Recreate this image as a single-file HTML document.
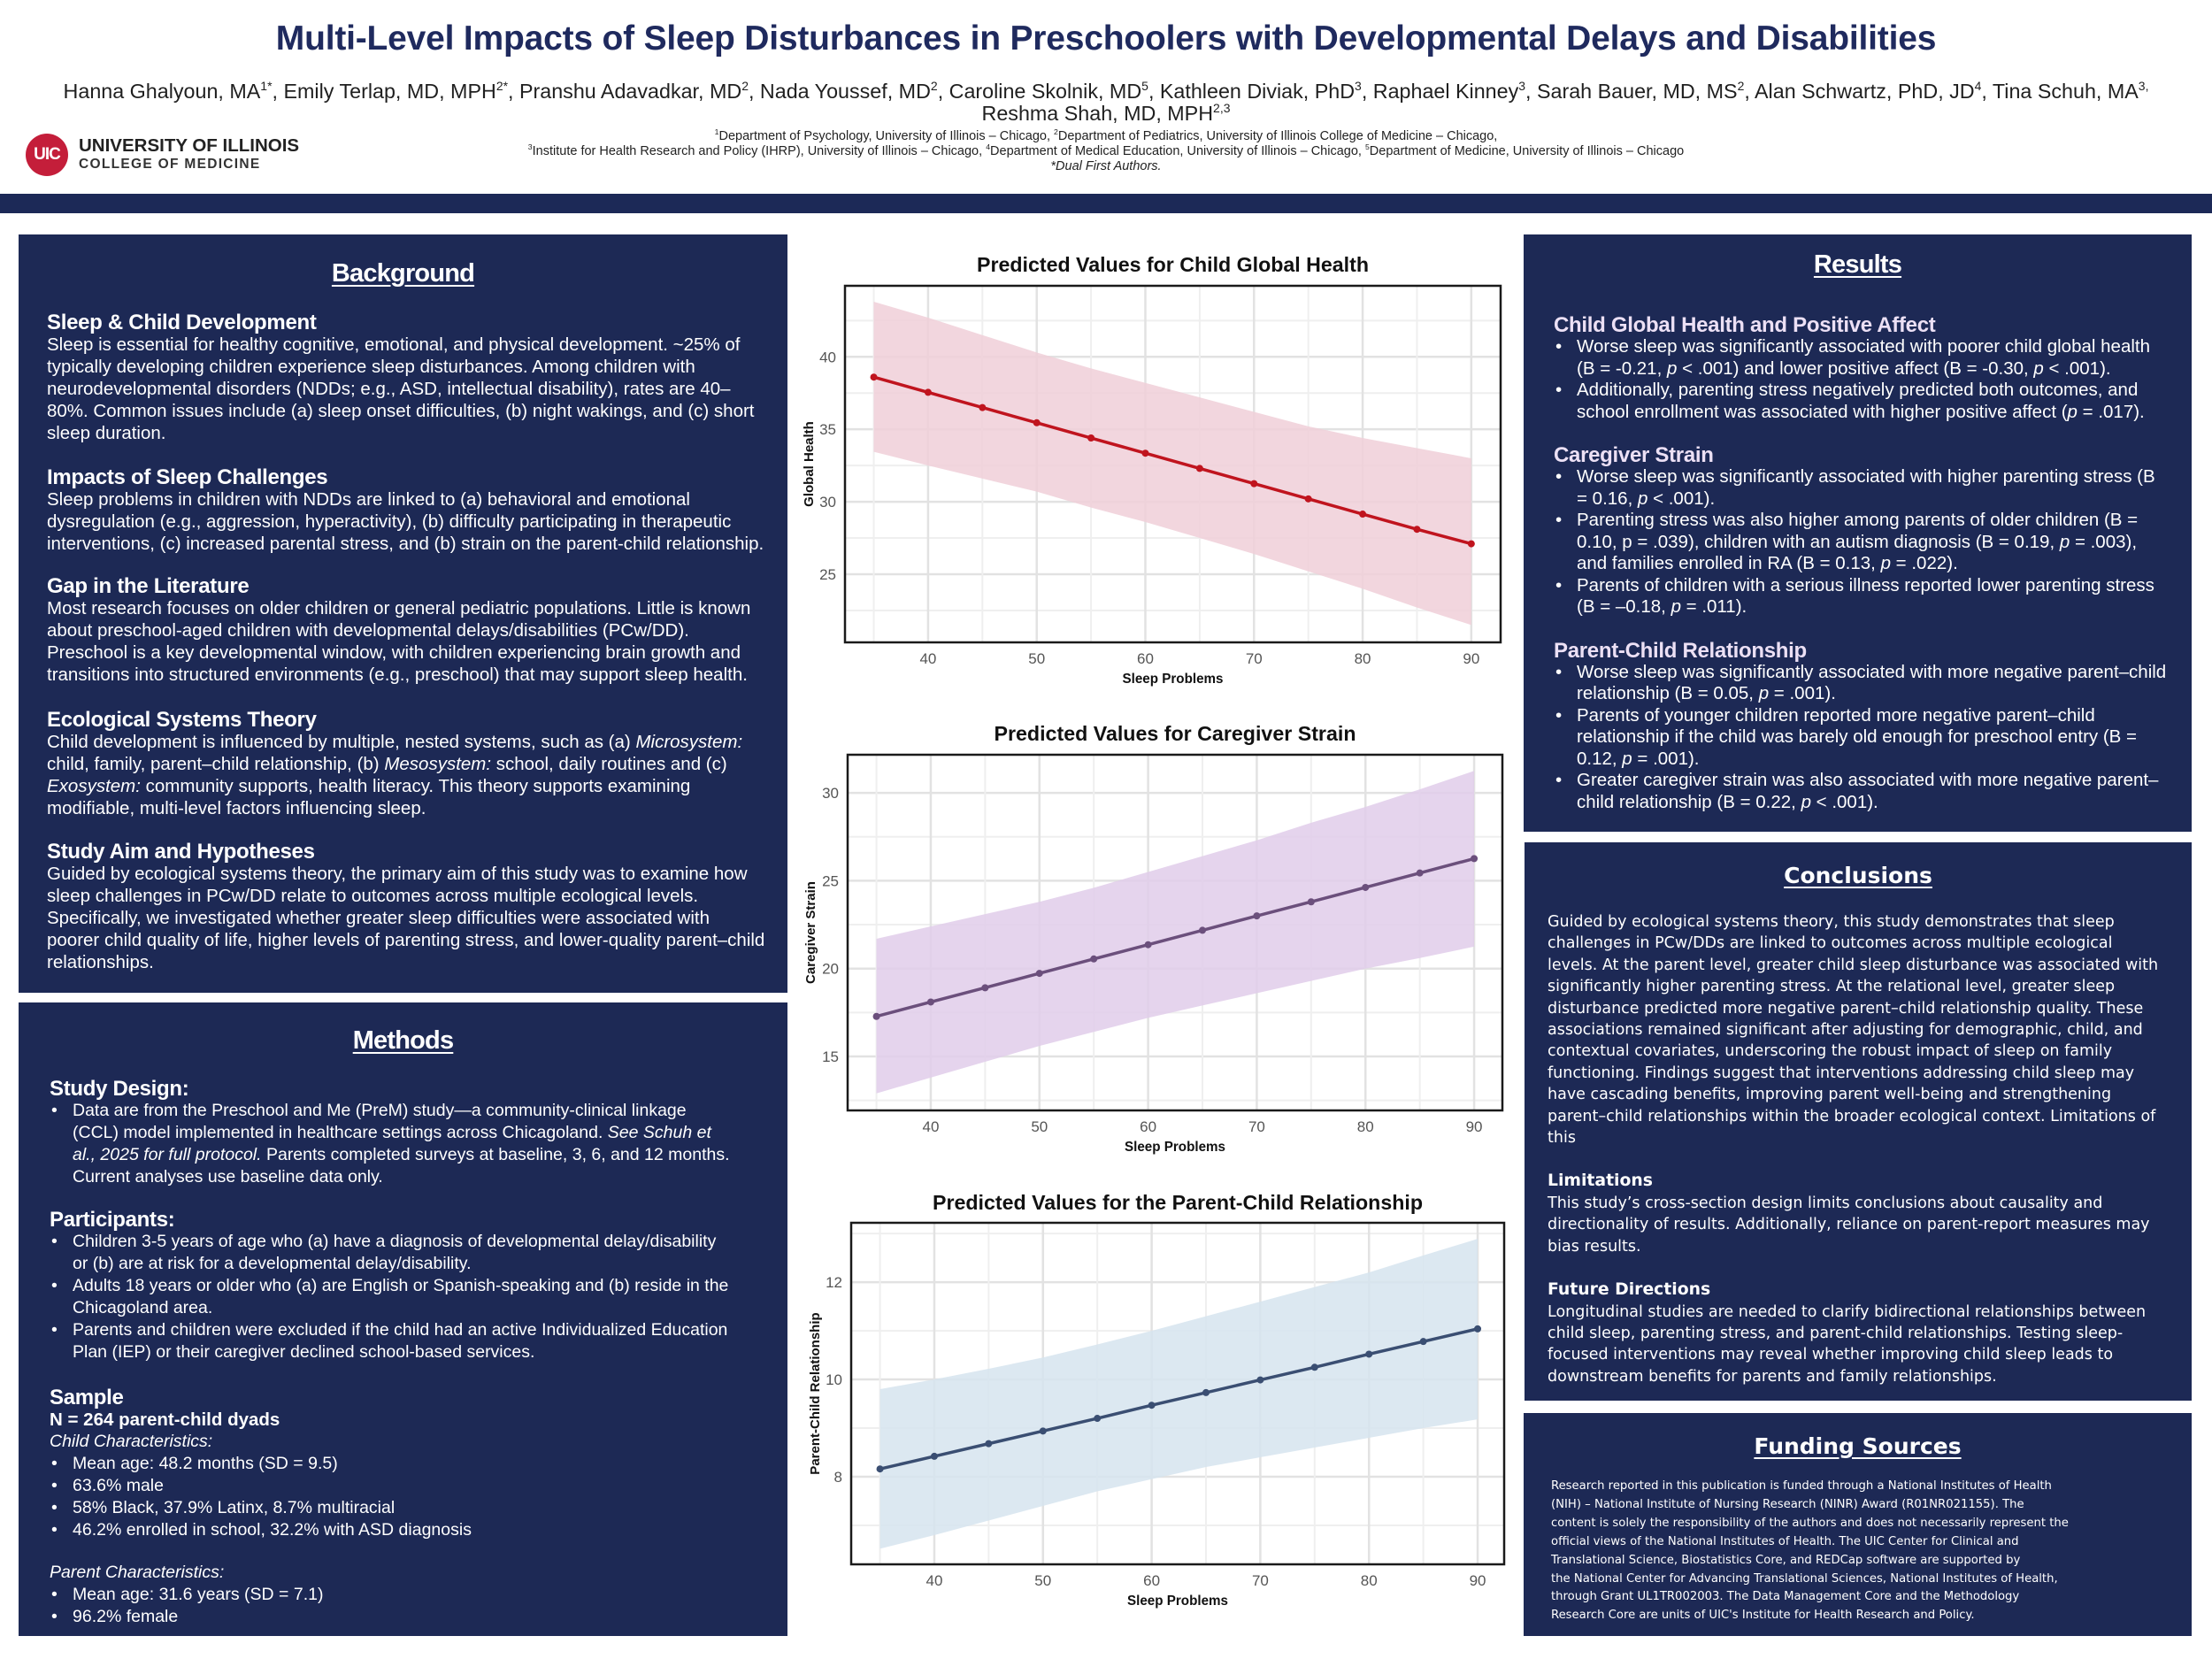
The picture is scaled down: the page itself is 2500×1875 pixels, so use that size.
<!DOCTYPE html>
<html><head><meta charset="utf-8">
<style>
*{margin:0;padding:0;box-sizing:border-box}
body{width:2500px;height:1875px;position:relative;background:#fff;font-family:"Liberation Sans",Arial,sans-serif;overflow:hidden}
.abs{position:absolute}
.panel{position:absolute;background:#1d2955}
.t{position:absolute;color:#fff;white-space:nowrap}
.h{font-weight:bold;font-size:29px;letter-spacing:-0.8px;text-decoration:underline;text-underline-offset:4px;text-align:center;line-height:40px}
.sub{font-weight:bold;font-size:24px;letter-spacing:-0.3px;line-height:25px}
.body{font-size:20.5px;line-height:25px}
.res{font-size:20.5px;line-height:24.5px}
.res .sub{color:#ece0f5}
.bl{position:relative;padding-left:26px}
.bl:before{content:"•";position:absolute;left:2px}
.dv{font-family:"DejaVu Sans",sans-serif}
sup{font-size:0.6em;line-height:0}
</style></head>
<body>
<div class="abs" style="left:0;top:22px;width:2500px;text-align:center;font-size:39px;font-weight:bold;color:#1f2a5e;letter-spacing:-0.2px">Multi-Level Impacts of Sleep Disturbances in Preschoolers with Developmental Delays and Disabilities</div>
<div class="abs" style="left:0;top:91px;width:2500px;text-align:center;font-size:23.3px;line-height:25px;color:#1f1f1f">Hanna Ghalyoun, MA<sup>1*</sup>, Emily Terlap, MD, MPH<sup>2*</sup>, Pranshu Adavadkar, MD<sup>2</sup>, Nada Youssef, MD<sup>2</sup>, Caroline Skolnik, MD<sup>5</sup>, Kathleen Diviak, PhD<sup>3</sup>, Raphael Kinney<sup>3</sup>, Sarah Bauer, MD, MS<sup>2</sup>, Alan Schwartz, PhD, JD<sup>4</sup>, Tina Schuh, MA<sup>3,</sup><br>Reshma Shah, MD, MPH<sup>2,3</sup></div>
<div class="abs" style="left:0;top:146px;width:2500px;text-align:center;font-size:14.5px;line-height:17px;color:#222"><sup>1</sup>Department of Psychology, University of Illinois – Chicago, <sup>2</sup>Department of Pediatrics, University of Illinois College of Medicine – Chicago,<br><sup>3</sup>Institute for Health Research and Policy (IHRP), University of Illinois – Chicago, <sup>4</sup>Department of Medical Education, University of Illinois – Chicago, <sup>5</sup>Department of Medicine, University of Illinois – Chicago<br><i>*Dual First Authors.</i></div>
<div class="abs" style="left:29px;top:151px;width:340px;height:50px">
 <div style="position:absolute;left:0;top:0;width:48px;height:48px;border-radius:50%;background:#c41e3a;color:#fff;font-weight:bold;font-size:19px;line-height:48px;text-align:center;letter-spacing:-1px">UIC</div>
 <div style="position:absolute;left:60px;top:2px;font-weight:bold;font-size:20.5px;color:#222;white-space:nowrap">UNIVERSITY OF ILLINOIS</div>
 <div style="position:absolute;left:60px;top:26px;font-weight:bold;font-size:15.5px;color:#333;letter-spacing:1.3px;white-space:nowrap">COLLEGE OF MEDICINE</div>
</div>
<div class="abs" style="left:0;top:219px;width:2500px;height:22px;background:#1c2957"></div>

<div class="panel" style="left:21px;top:265px;width:869px;height:857px"></div>
<div class="t h" style="left:21px;width:869px;top:289px">Background</div>
<div class="t" style="left:53px;top:352px">
<div class="sub">Sleep &amp; Child Development</div>
<div class="body">Sleep is essential for healthy cognitive, emotional, and physical development. ~25% of<br>typically developing children experience sleep disturbances. Among children with<br>neurodevelopmental disorders (NDDs; e.g., ASD, intellectual disability), rates are 40–<br>80%. Common issues include (a) sleep onset difficulties, (b) night wakings, and (c) short<br>sleep duration.</div>
<div class="sub" style="margin-top:25px">Impacts of Sleep Challenges</div>
<div class="body">Sleep problems in children with NDDs are linked to (a) behavioral and emotional<br>dysregulation (e.g., aggression, hyperactivity), (b) difficulty participating in therapeutic<br>interventions, (c) increased parental stress, and (b) strain on the parent-child relationship.</div>
<div class="sub" style="margin-top:23px">Gap in the Literature</div>
<div class="body">Most research focuses on older children or general pediatric populations. Little is known<br>about preschool-aged children with developmental delays/disabilities (PCw/DD).<br>Preschool is a key developmental window, with children experiencing brain growth and<br>transitions into structured environments (e.g., preschool) that may support sleep health.</div>
<div class="sub" style="margin-top:26px">Ecological Systems Theory</div>
<div class="body">Child development is influenced by multiple, nested systems, such as (a) <i>Microsystem:</i><br>child, family, parent–child relationship, (b) <i>Mesosystem:</i> school, daily routines and (c)<br><i>Exosystem:</i> community supports, health literacy. This theory supports examining<br>modifiable, multi-level factors influencing sleep.</div>
<div class="sub" style="margin-top:24px">Study Aim and Hypotheses</div>
<div class="body">Guided by ecological systems theory, the primary aim of this study was to examine how<br>sleep challenges in PCw/DD relate to outcomes across multiple ecological levels.<br>Specifically, we investigated whether greater sleep difficulties were associated with<br>poorer child quality of life, higher levels of parenting stress, and lower-quality parent–child<br>relationships.</div>
</div>

<div class="panel" style="left:21px;top:1133px;width:869px;height:716px"></div>
<div class="t h" style="left:21px;width:869px;top:1156px">Methods</div>
<div class="t" style="left:56px;top:1218px">
<div class="sub">Study Design:</div>
<div class="body bl" style="font-size:19.5px">Data are from the Preschool and Me (PreM) study—a community-clinical linkage<br>(CCL) model implemented in healthcare settings across Chicagoland. <i>See Schuh et<br>al., 2025 for full protocol.</i> Parents completed surveys at baseline, 3, 6, and 12 months.<br>Current analyses use baseline data only.</div>
<div class="sub" style="margin-top:23px">Participants:</div>
<div class="body bl" style="font-size:19.5px">Children 3-5 years of age who (a) have a diagnosis of developmental delay/disability<br>or (b) are at risk for a developmental delay/disability.</div>
<div class="body bl" style="font-size:19.5px">Adults 18 years or older who (a) are English or Spanish-speaking and (b) reside in the<br>Chicagoland area.</div>
<div class="body bl" style="font-size:19.5px">Parents and children were excluded if the child had an active Individualized Education<br>Plan (IEP) or their caregiver declined school-based services.</div>
<div class="sub" style="margin-top:26px">Sample</div>
<div class="body" style="font-weight:bold;font-size:20.5px">N = 264 parent-child dyads</div>
<div class="body" style="font-style:italic;font-size:19.5px">Child Characteristics:</div>
<div class="body bl" style="font-size:19.5px">Mean age: 48.2 months (SD = 9.5)</div>
<div class="body bl" style="font-size:19.5px">63.6% male</div>
<div class="body bl" style="font-size:19.5px">58% Black, 37.9% Latinx, 8.7% multiracial</div>
<div class="body bl" style="font-size:19.5px">46.2% enrolled in school, 32.2% with ASD diagnosis</div>
<div class="body" style="font-style:italic;margin-top:23px;font-size:19.5px">Parent Characteristics:</div>
<div class="body bl" style="font-size:19.5px">Mean age: 31.6 years (SD = 7.1)</div>
<div class="body bl" style="font-size:19.5px">96.2% female</div>
</div>

<div class="panel" style="left:1722px;top:265px;width:755px;height:675px"></div>
<div class="t h" style="left:1722px;width:755px;top:279px">Results</div>
<div class="t res" style="left:1756px;top:355px">
<div class="sub">Child Global Health and Positive Affect</div>
<div class="bl">Worse sleep was significantly associated with poorer child global health<br>(B = -0.21, <i>p</i> &lt; .001) and lower positive affect (B = -0.30, <i>p</i> &lt; .001).</div>
<div class="bl">Additionally, parenting stress negatively predicted both outcomes, and<br>school enrollment was associated with higher positive affect (<i>p</i> = .017).</div>
<div class="sub" style="margin-top:24px">Caregiver Strain</div>
<div class="bl">Worse sleep was significantly associated with higher parenting stress (B<br>= 0.16, <i>p</i> &lt; .001).</div>
<div class="bl">Parenting stress was also higher among parents of older children (B =<br>0.10, p = .039), children with an autism diagnosis (B = 0.19, <i>p</i> = .003),<br>and families enrolled in RA (B = 0.13, <i>p</i> = .022).</div>
<div class="bl">Parents of children with a serious illness reported lower parenting stress<br>(B = –0.18, <i>p</i> = .011).</div>
<div class="sub" style="margin-top:24px">Parent-Child Relationship</div>
<div class="bl">Worse sleep was significantly associated with more negative parent–child<br>relationship (B = 0.05, <i>p</i> = .001).</div>
<div class="bl">Parents of younger children reported more negative parent–child<br>relationship if the child was barely old enough for preschool entry (B =<br>0.12, <i>p</i> = .001).</div>
<div class="bl">Greater caregiver strain was also associated with more negative parent–<br>child relationship (B = 0.22, <i>p</i> &lt; .001).</div>
</div>

<div class="panel" style="left:1723px;top:952px;width:754px;height:631px"></div>
<div class="t dv" style="left:1723px;width:754px;top:972px;text-align:center;font-weight:bold;font-size:25px;line-height:36px;text-decoration:underline;text-underline-offset:4px">Conclusions</div>
<div class="t dv" style="left:1749px;top:1030px;font-size:17.5px;line-height:24.4px">
<div>Guided by ecological systems theory, this study demonstrates that sleep<br>challenges in PCw/DDs are linked to outcomes across multiple ecological<br>levels. At the parent level, greater child sleep disturbance was associated with<br>significantly higher parenting stress. At the relational level, greater sleep<br>disturbance predicted more negative parent–child relationship quality. These<br>associations remained significant after adjusting for demographic, child, and<br>contextual covariates, underscoring the robust impact of sleep on family<br>functioning. Findings suggest that interventions addressing child sleep may<br>have cascading benefits, improving parent well-being and strengthening<br>parent–child relationships within the broader ecological context. Limitations of<br>this</div>
<div style="font-weight:bold;font-size:18.8px;margin-top:25px">Limitations</div>
<div>This study’s cross-section design limits conclusions about causality and<br>directionality of results. Additionally, reliance on parent-report measures may<br>bias results.</div>
<div style="font-weight:bold;font-size:18.8px;margin-top:25px">Future Directions</div>
<div>Longitudinal studies are needed to clarify bidirectional relationships between<br>child sleep, parenting stress, and parent-child relationships. Testing sleep-<br>focused interventions may reveal whether improving child sleep leads to<br>downstream benefits for parents and family relationships.</div>
</div>

<div class="panel" style="left:1722px;top:1597px;width:755px;height:252px"></div>
<div class="t dv" style="left:1722px;width:755px;top:1617px;text-align:center;font-weight:bold;font-size:25px;line-height:36px;text-decoration:underline;text-underline-offset:4px">Funding Sources</div>
<div class="t dv" style="left:1753px;top:1670px;font-size:13.2px;line-height:20.9px">Research reported in this publication is funded through a National Institutes of Health<br>(NIH) – National Institute of Nursing Research (NINR) Award (R01NR021155). The<br>content is solely the responsibility of the authors and does not necessarily represent the<br>official views of the National Institutes of Health. The UIC Center for Clinical and<br>Translational Science, Biostatistics Core, and REDCap software are supported by<br>the National Center for Advancing Translational Sciences, National Institutes of Health,<br>through Grant UL1TR002003. The Data Management Core and the Methodology<br>Research Core are units of UIC's Institute for Health Research and Policy.</div>

<svg id="charts" class="abs" style="left:890px;top:250px" width="820" height="1620" viewBox="890 250 820 1620" xmlns="http://www.w3.org/2000/svg"></svg>

<script>
// Shared x categories (Sleep Problems)
const xVals = [35,40,45,50,55,60,65,70,75,80,85,90];
const xTicks = [40,50,60,70,80,90];
// Chart 1: Child Global Health
const ghMean  = [38.6,37.55,36.5,35.45,34.4,33.35,32.3,31.25,30.2,29.15,28.1,27.1];
const ghUpper = [43.8,42.7,41.5,40.3,39.2,38.2,37.2,36.2,35.2,34.4,33.7,33.0];
const ghLower = [33.45,32.5,31.6,30.7,29.6,28.6,27.5,26.4,25.2,24.0,22.7,21.5];
const ghTicks = [25,30,35,40];
// Chart 2: Caregiver Strain
const csMean  = [17.28,18.1,18.91,19.73,20.55,21.36,22.18,23.0,23.8,24.62,25.44,26.26];
const csUpper = [21.7,22.4,23.1,23.8,24.6,25.5,26.4,27.3,28.3,29.2,30.2,31.25];
const csLower = [12.9,13.8,14.7,15.6,16.4,17.2,17.9,18.6,19.3,20.0,20.6,21.25];
const csTicks = [15,20,25,30];
// Chart 3: Parent-Child Relationship
const pcMean  = [8.16,8.42,8.68,8.94,9.2,9.47,9.73,9.99,10.25,10.52,10.78,11.04];
const pcUpper = [9.8,10.0,10.22,10.45,10.72,11.0,11.3,11.6,11.9,12.2,12.55,12.89];
const pcLower = [6.52,6.8,7.1,7.4,7.7,7.95,8.2,8.4,8.6,8.8,9.0,9.18];
const pcTicks = [8,10,12];

const NS = "http://www.w3.org/2000/svg";
const svg = document.getElementById('charts');
function mk(tag, attrs, parent){
  const e = document.createElementNS(NS, tag);
  for (const k in attrs) e.setAttribute(k, attrs[k]);
  (parent||svg).appendChild(e);
  return e;
}
function drawChart(c){
  const g = mk('g', {});
  
  
  const sx = v => c.L + (v - c.xmin) / (c.xmax - c.xmin) * (c.R - c.L);
  const sy = v => c.B - (v - c.ymin) / (c.ymax - c.ymin) * (c.B - c.T);
  mk('rect', {x:c.L, y:c.T, width:c.R-c.L, height:c.B-c.T, fill:'#fff'}, g);
  const step = c.yTicks[1] - c.yTicks[0];
  for (let v = c.yTicks[0] - step/2; v <= c.ymax; v += step) {
    if (v < c.ymin) continue;
    mk('line', {x1:c.L, x2:c.R, y1:sy(v), y2:sy(v), stroke:'#efefef', 'stroke-width':2}, g);
  }
  c.yTicks.forEach(v => mk('line', {x1:c.L, x2:c.R, y1:sy(v), y2:sy(v), stroke:'#e2e2e2', 'stroke-width':2.5}, g));
  xVals.forEach(v => mk('line', {x1:sx(v), x2:sx(v), y1:c.T, y2:c.B, stroke: (v%10===0)?'#e2e2e2':'#efefef', 'stroke-width':(v%10===0)?2.5:2}, g));
  let pts = xVals.map((x,i) => sx(x)+','+sy(c.upper[i]));
  pts = pts.concat(xVals.slice().reverse().map((x,j) => { const i = xVals.length-1-j; return sx(x)+','+sy(c.lower[i]); }));
  const band = mk('polygon', {points:pts.join(' '), fill:c.band, 'fill-opacity':0.85}, g);
  
  
  const line = mk('polyline', {points:xVals.map((x,i)=>sx(x)+','+sy(c.mean[i])).join(' '), fill:'none', stroke:c.color, 'stroke-width':3.5}, g);
  
  
  xVals.forEach((x,i) => {
    const p = mk('circle', {cx:sx(x), cy:sy(c.mean[i]), r:4, fill:c.color}, g);
    
    
  });
  mk('rect', {x:c.L, y:c.T, width:c.R-c.L, height:c.B-c.T, fill:'none', stroke:'#1a1a1a', 'stroke-width':2.5}, g);
  c.yTicks.forEach(v => {
    const t = mk('text', {x:c.L-10, y:sy(v)+6, 'text-anchor':'end', 'font-size':17, fill:'#555', 'font-family':'Liberation Sans, sans-serif'}, g);
    t.textContent = v;
    
    
  });
  xTicks.forEach(v => {
    const t = mk('text', {x:sx(v), y:c.B+24, 'text-anchor':'middle', 'font-size':17, fill:'#555', 'font-family':'Liberation Sans, sans-serif'}, g);
    t.textContent = v;
    
    
  });
  const tt = mk('text', {x:(c.L+c.R)/2, y:c.titleY, 'text-anchor':'middle', 'font-size':23, 'font-weight':'bold', fill:'#111', 'font-family':'Liberation Sans, sans-serif', textLength:c.titleW, lengthAdjust:'spacingAndGlyphs'}, g);
  tt.textContent = c.title;
  
  
  const xt = mk('text', {x:(c.L+c.R)/2, y:c.B+46, 'text-anchor':'middle', 'font-size':16, 'font-weight':'bold', fill:'#111', 'font-family':'Liberation Sans, sans-serif', textLength:114, lengthAdjust:'spacingAndGlyphs'}, g);
  xt.textContent = 'Sleep Problems';
  
  
  const yc = (c.T+c.B)/2;
  const yt = mk('text', {x:c.yTitleX, y:yc, 'text-anchor':'middle', 'font-size':15, 'font-weight':'bold', fill:'#111', 'font-family':'Liberation Sans, sans-serif', transform:'rotate(-90 '+c.yTitleX+' '+yc+')'}, g);
  yt.textContent = c.yTitle;
  
  
}
drawChart({name:'global-health-chart', L:955, T:323, R:1696, B:726, xmin:32.35, xmax:92.7, ymin:20.3, ymax:44.9,
  yTicks:ghTicks, mean:ghMean, upper:ghUpper, lower:ghLower, color:'#c0141e', band:'#f0cfd8',
  title:'Predicted Values for Child Global Health', titleY:307, titleW:443, yTitle:'Global Health', yTitleX:919});
drawChart({name:'caregiver-strain-chart', L:958, T:853, R:1698, B:1255, xmin:32.35, xmax:92.6, ymin:11.93, ymax:32.17,
  yTicks:csTicks, mean:csMean, upper:csUpper, lower:csLower, color:'#6b4f7c', band:'#e0cdea',
  title:'Predicted Values for Caregiver Strain', titleY:837, titleW:409, yTitle:'Caregiver Strain', yTitleX:921});
drawChart({name:'parent-child-chart', L:962, T:1382, R:1700, B:1768, xmin:32.35, xmax:92.44, ymin:6.2, ymax:13.22,
  yTicks:pcTicks, mean:pcMean, upper:pcUpper, lower:pcLower, color:'#3a4e72', band:'#d6e4ee',
  title:'Predicted Values for the Parent-Child Relationship', titleY:1367, titleW:554, yTitle:'Parent-Child Relationship', yTitleX:926});
</script>
</body></html>
